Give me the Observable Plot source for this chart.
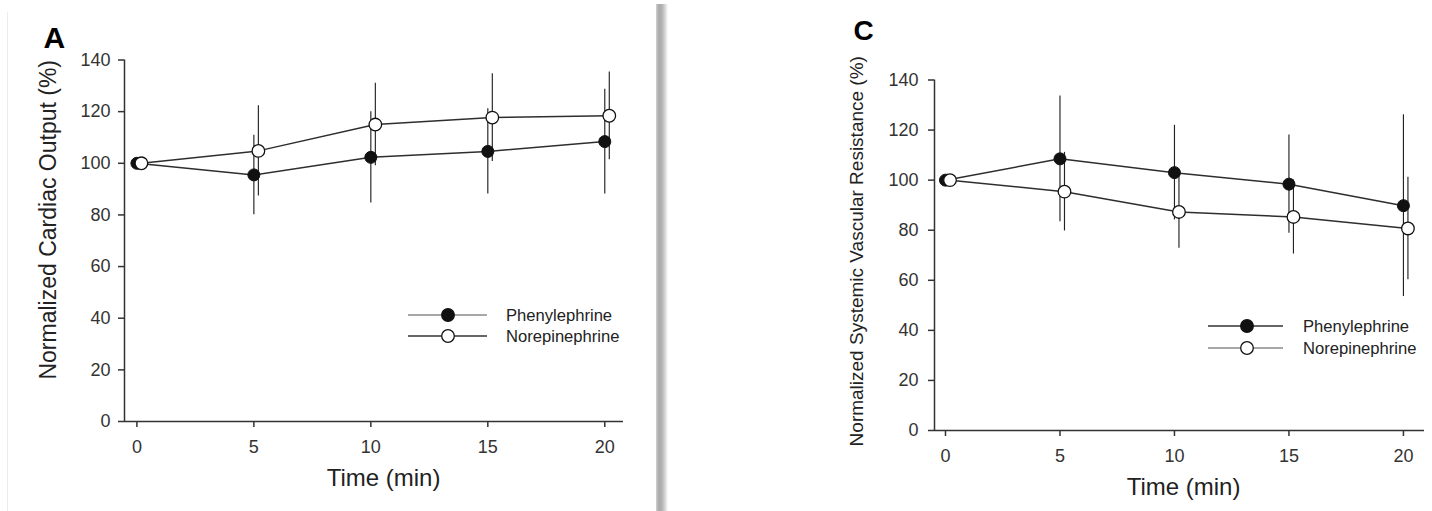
<!DOCTYPE html>
<html>
<head>
<meta charset="utf-8">
<script src="https://cdn.jsdelivr.net/npm/d3@7"></script>
<script src="https://cdn.jsdelivr.net/npm/@observablehq/plot@0.6"></script>
<style>
html, body { margin: 0; padding: 0; background: #fff; }
#wrap { position: relative; width: 1432px; height: 511px; overflow: hidden; background: #fff; font-family: "Liberation Sans", Arial, sans-serif; }
#wrap svg.panel { position: absolute; top: 0; }
#wrap svg.panel g[aria-label$="tick label"] text { font-size: 18px !important; }
#divider { position: absolute; left: 656px; top: 4px; width: 12px; height: 507px;
  background: linear-gradient(to right, #d0d0d0 0%, #a9a9a9 25%, #b3b3b3 50%, #dedede 80%, #ffffff 100%); }
#edge { position: absolute; left: 7px; top: 12px; width: 1px; height: 499px; background: #ececec; }
</style>
</head>
<body>
<div id="wrap"><div id="edge"></div><div id="divider"></div></div>
<script>
// ---- data ----
const times = [0, 5, 10, 15, 20];
const xTicks = [0, 5, 10, 15, 20];
const yTicks = [0, 20, 40, 60, 80, 100, 120, 140];
const seriesNames = ["Phenylephrine", "Norepinephrine"];

// Panel A: Normalized Cardiac Output (%)
const coPhenMean = [100, 95.5, 102.3, 104.6, 108.4];
const coPhenSD   = [0, 15.4, 17.7, 16.5, 20.3];
const coNorMean  = [100, 104.8, 115.0, 117.7, 118.4];
const coNorSD    = [0, 17.5, 16.0, 17.0, 17.0];

// Panel C: Normalized Systemic Vascular Resistance (%)
const svrPhenMean = [100, 108.5, 103.0, 98.4, 89.8];
const svrPhenSD   = [0, 25.1, 18.9, 19.6, 36.3];
const svrNorMean  = [100, 95.4, 87.3, 85.3, 80.7];
const svrNorSD    = [0, 15.7, 14.5, 14.8, 20.5];

const panelLetters = ["A", "C"];
const xTitle = "Time (min)";
const yTitles = ["Normalized Cardiac Output (%)", "Normalized Systemic Vascular Resistance (%)"];

// ---- drawing ----
const FONT = "'Liberation Sans', Arial, Helvetica, sans-serif";
const axisColor = "#333";
const textColor = "#222";

function makePanel(cfg) {
  const rows = times.map((t, i) => ({t, phen: cfg.phen[i], phenSD: cfg.phenSD[i], nor: cfg.nor[i], norSD: cfg.norSD[i]}));
  const barsPhen = rows.filter(d => d.phenSD > 0);
  const barsNor = rows.filter(d => d.norSD > 0);
  const plot = Plot.plot({
    width: cfg.width,
    height: 511,
    marginLeft: cfg.ml, marginRight: cfg.mr, marginTop: cfg.mt, marginBottom: cfg.mb,
    x: {domain: cfg.xDomain},
    y: {domain: [0, 140]},
    style: {fontFamily: FONT, fontSize: "18px", color: textColor, background: "transparent", overflow: "visible"},
    marks: [
      Plot.ruleY([0], {stroke: axisColor, strokeWidth: 1.5}),
      Plot.ruleX([cfg.xDomain[0]], {stroke: axisColor, strokeWidth: 1.5}),
      Plot.axisX({ticks: xTicks, tickSize: 6, tickPadding: cfg.xPad, fontSize: 18, label: null, color: axisColor, strokeWidth: 1.5, tickFormat: d => String(d)}),
      Plot.axisY({ticks: yTicks, tickSize: 6, tickPadding: cfg.yPad, fontSize: 18, label: null, color: axisColor, strokeWidth: 1.5, tickFormat: d => String(d)}),
      Plot.ruleX(barsPhen, {x: "t", y1: d => d.phen - d.phenSD, y2: d => d.phen + d.phenSD, stroke: "#222", strokeWidth: 1.15, dx: cfg.phenDx}),
      Plot.ruleX(barsNor, {x: "t", y1: d => d.nor - d.norSD, y2: d => d.nor + d.norSD, stroke: "#222", strokeWidth: 1.15, dx: cfg.norDx}),
      Plot.line(rows, {x: "t", y: "phen", stroke: "#2e2e2e", strokeWidth: 1.5, dx: cfg.phenDx}),
      Plot.line(rows, {x: "t", y: "nor", stroke: "#2e2e2e", strokeWidth: 1.5, dx: cfg.norDx}),
      Plot.dot(rows, {x: "t", y: "phen", r: 6, fill: "#111", stroke: "#111", strokeWidth: 1, dx: cfg.phenDx}),
      Plot.dot(rows, {x: "t", y: "nor", r: 6.3, fill: "#fff", stroke: "#111", strokeWidth: 1.3, dx: cfg.norDx}),
      Plot.text([cfg.letter], {text: d => d, frameAnchor: "top-left", textAnchor: "start", lineAnchor: "middle", dx: cfg.letterDx, dy: cfg.letterDy, fontSize: cfg.letterSize, fontWeight: "bold", fill: "#000"}),
      Plot.text([xTitle], {text: d => d, frameAnchor: "bottom", textAnchor: "middle", lineAnchor: "middle", dx: cfg.xTitleDx, dy: cfg.xTitleDy, fontSize: 24, fill: textColor}),
      Plot.text([cfg.yTitle], {text: d => d, frameAnchor: "left", textAnchor: "middle", lineAnchor: "middle", rotate: -90, dx: cfg.yTitleDx, dy: cfg.yTitleDy, fontSize: cfg.yTitleSize, fill: textColor})
    ]
  });
  plot.classList.add("panel");
  plot.style.left = cfg.left + "px";

  // legend
  const g = d3.select(plot).append("g").attr("font-family", FONT).attr("font-size", 16.6)
    .attr("fill", textColor).attr("text-anchor", "start");
  const L = cfg.legend;
  seriesNames.forEach((name, i) => {
    const y = L.rows[i];
    g.append("line").attr("x1", L.x1).attr("x2", L.x2).attr("y1", y).attr("y2", y)
      .attr("stroke", L.lineColors[i]).attr("stroke-width", 1.6);
    g.append("circle").attr("cx", L.mx).attr("cy", y).attr("r", 6.3)
      .attr("fill", i === 0 ? "#111" : "#fff").attr("stroke", "#111").attr("stroke-width", 1.3);
    g.append("text").attr("x", L.tx).attr("y", y).attr("dy", "0.35em").attr("text-anchor", "start").text(name);
  });
  document.getElementById("wrap").appendChild(plot);
}

makePanel({
  left: 0, width: 660, ml: 124, mr: 37, mt: 59.5, mb: 90,
  xDomain: [-0.53, 20.8], xPad: 13, yPad: 8,
  phen: coPhenMean, phenSD: coPhenSD, nor: coNorMean, norSD: coNorSD,
  phenDx: 0, norDx: 4.5,
  letter: panelLetters[0], letterSize: 30, letterDx: -81, letterDy: -21.5,
  xTitleDx: 9.5, xTitleDy: 57,
  yTitle: yTitles[0], yTitleSize: 23, yTitleDx: -76, yTitleDy: -21,
  legend: {rows: [315, 336], x1: 408, x2: 487, mx: 448, tx: 506, lineColors: ["#8a8a8a", "#333"]}
});

makePanel({
  left: 660, width: 772, ml: 274, mr: 8, mt: 79.5, mb: 81,
  xDomain: [-0.48, 20.92], xPad: 12.5, yPad: 10,
  phen: svrPhenMean, phenSD: svrPhenSD, nor: svrNorMean, norSD: svrNorSD,
  phenDx: 0, norDx: 4.5,
  letter: panelLetters[1], letterSize: 28, letterDx: -81, letterDy: -49,
  xTitleDx: 4, xTitleDy: 57,
  yTitle: yTitles[1], yTitleSize: 19, yTitleDx: -77.5, yTitleDy: -4,
  legend: {rows: [326, 348], x1: 548, x2: 623, mx: 587, tx: 643, lineColors: ["#333", "#8a8a8a"]}
});
</script>
</body>
</html>
